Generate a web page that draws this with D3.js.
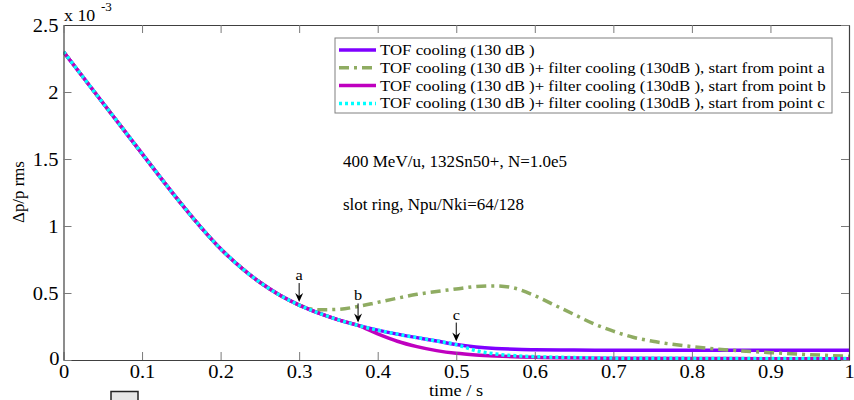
<!DOCTYPE html>
<html><head><meta charset="utf-8">
<script src="https://cdn.jsdelivr.net/npm/d3@7"></script>
<style>body{margin:0;background:#fff}svg{display:block}text{font-family:"Liberation Serif","Times New Roman",serif;fill:#000}</style>
</head><body>
<svg id="c" width="854" height="400"></svg>
<script>
// ---- data (values in units of 1e-3) ----
const baseT = [0,0.025,0.05,0.075,0.1,0.125,0.15,0.175,0.2,0.225,0.25,0.275,0.3];
const baseV = [2.30,2.11,1.92,1.73,1.54,1.35,1.165,0.99,0.83,0.695,0.58,0.485,0.41];
const tofT = [0.325,0.35,0.375,0.4,0.425,0.45,0.475,0.5,0.525,0.55,0.575,0.6,0.65,0.7,0.8,0.9,1.0];
const tofV = [0.35,0.30,0.258,0.223,0.193,0.167,0.142,0.115,0.097,0.086,0.08,0.077,0.074,0.073,0.072,0.072,0.072];
const aT = [0.31,0.325,0.35,0.375,0.4,0.45,0.5,0.525,0.55,0.575,0.6,0.625,0.65,0.675,0.7,0.725,0.75,0.8,0.85,0.9,0.95,1.0];
const aV = [0.388,0.375,0.378,0.40,0.43,0.49,0.53,0.548,0.553,0.535,0.48,0.41,0.34,0.27,0.215,0.17,0.14,0.10,0.073,0.055,0.04,0.028];
const bT = [0.4,0.425,0.45,0.475,0.5,0.525,0.55,0.6,0.7,0.8,0.9,1.0];
const bV = [0.195,0.14,0.10,0.07,0.05,0.038,0.03,0.02,0.013,0.011,0.01,0.01];
const cT = [0.525,0.55,0.575,0.6,0.65,0.7,0.8,0.9,1.0];
const cV = [0.07,0.045,0.032,0.025,0.018,0.014,0.012,0.011,0.011];
const seriesNames = [
  "TOF cooling (130 dB )",
  "TOF cooling (130 dB )+ filter cooling (130dB ), start from point a",
  "TOF cooling (130 dB )+ filter cooling (130dB ), start from point b",
  "TOF cooling (130 dB )+ filter cooling (130dB ), start from point c"
];
const xTicks = [0,0.1,0.2,0.3,0.4,0.5,0.6,0.7,0.8,0.9,1];
const yTicks = [0,0.5,1,1.5,2,2.5];
const markers = [{label:"a",t:0.3},{label:"b",t:0.375},{label:"c",t:0.5}];
const infoLines = ["400 MeV/u, 132Sn50+, N=1.0e5","slot ring, Npu/Nki=64/128"];

// ---- build series: shared prefix (base + TOF) up to the branch point, then own values ----
function build(prefixEnd, t, v){
  const pts = [];
  baseT.forEach((x,i)=>pts.push([x,baseV[i]]));
  tofT.forEach((x,i)=>{ if(x<=prefixEnd) pts.push([x,tofV[i]]); });
  t.forEach((x,i)=>pts.push([x,v[i]]));
  return pts;
}
const sTof = build(1.0,[],[]);
const sA = build(0.3,aT,aV);
const sB = build(0.375,bT,bV);
const sC = build(0.5,cT,cV);

const styles = [
  {color:"#7f00ff", dash:null, w:3.5, data:sTof},
  {color:"#8fac62", dash:"10,5,3,5", w:3.5, data:sA},
  {color:"#bf00bf", dash:null, w:3.5, data:sB},
  {color:"#00ffff", dash:"3,3", w:3.5, data:sC}
];

const svg = d3.select("#c");
const L=63.5, R=849, T=25, B=360;
const x = d3.scaleLinear().domain([0,1]).range([L,R]);
const y = d3.scaleLinear().domain([0,2.5]).range([B,T]);
const FF = '"Liberation Serif","Times New Roman",serif';

function stext(g, tx, ty, str, size, anchor, sx){
  return g.append("text").attr("transform",`translate(${tx},${ty}) scale(${sx},1)`)
    .attr("font-family",FF).attr("font-size",size).attr("text-anchor",anchor||"start").text(str);
}

// clip
svg.append("defs").append("clipPath").attr("id","clip").append("rect")
  .attr("x",L).attr("y",T).attr("width",R-L).attr("height",B-T);

// lines
const line = d3.line().x(d=>x(d[0])).y(d=>y(d[1])).curve(d3.curveMonotoneX);
const lg = svg.append("g").attr("clip-path","url(#clip)");
styles.forEach(s=>{
  lg.append("path").attr("d",line(s.data)).attr("fill","none").attr("stroke",s.color)
    .attr("stroke-width",s.w).attr("stroke-dasharray",s.dash);
});

// axes box with inward ticks
const tickColor="#7a7a7a";
const TSX = 1.08;
const axB = d3.axisBottom(x).tickValues(xTicks).tickSizeInner(-8).tickSizeOuter(0).tickPadding(0).tickFormat(d3.format("~g"));
const axL = d3.axisLeft(y).tickValues(yTicks).tickSizeInner(-8).tickSizeOuter(0).tickPadding(0).tickFormat(d3.format("~g"));
const axT = d3.axisTop(x).tickValues(xTicks).tickSizeInner(-8).tickSizeOuter(0).tickFormat("");
const axR = d3.axisRight(y).tickValues(yTicks).tickSizeInner(-8).tickSizeOuter(0).tickFormat("");
const gB = svg.append("g").attr("transform",`translate(0,${B})`).call(axB);
const gL = svg.append("g").attr("transform",`translate(${L},0)`).call(axL);
const gT = svg.append("g").attr("transform",`translate(0,${T})`).call(axT);
const gR = svg.append("g").attr("transform",`translate(${R},0)`).call(axR);
[gB,gL,gT,gR].forEach(g=>{
  g.attr("font-family",FF);
  g.select(".domain").attr("stroke","#404040").attr("stroke-width",1.2);
  g.selectAll(".tick line").attr("stroke",tickColor).attr("stroke-width",1);
});
gB.selectAll(".tick text").each(function(){
  d3.select(this).attr("y",null).attr("dy",null).attr("transform",`translate(0,17.5) scale(${TSX},1)`)
   .attr("font-size",19).attr("font-family",FF).attr("fill","#000");
});
gL.selectAll(".tick text").each(function(){
  d3.select(this).attr("x",null).attr("dy",null).attr("transform",`translate(-5,6) scale(${TSX},1)`)
   .attr("font-size",19).attr("font-family",FF).attr("fill","#000");
});
gL.selectAll(".tick").filter(d=>d===0).select("text").attr("transform",`translate(-4,4) scale(${TSX},1)`);

// exponent
stext(svg, 64, 21, "x 10", 17, "start", 1.05);
stext(svg, 101, 11, "-3", 12.5, "start", 1.05);

// axis labels
stext(svg, 456, 396, "time / s", 17.5, "middle", 1.05);
svg.append("text").attr("transform",`translate(24,192) rotate(-90) scale(1.02,1)`)
  .attr("font-family",FF).attr("font-size",16.5).attr("text-anchor","middle").text("\u0394p/p rms");

// markers with arrows
const tofInterp = d3.scaleLinear().domain(sTof.map(p=>p[0])).range(sTof.map(p=>p[1]));
markers.forEach(m=>{
  const px = x(m.t), py = y(tofInterp(m.t)) - 3;
  const g = svg.append("g");
  g.append("line").attr("x1",px).attr("x2",px).attr("y1",py-19).attr("y2",py-2)
    .attr("stroke","#000").attr("stroke-width",1);
  g.append("path").attr("d",`M${px},${py} L${px-4},${py-9} L${px},${py-6} L${px+4},${py-9} Z`).attr("fill","#000");
  stext(g, px, py-22, m.label, 15.5, "middle", 1.05);
});

// info text
stext(svg, 343, 167, infoLines[0], 17, "start", 1.0);
stext(svg, 343, 210, infoLines[1], 17, "start", 1.0);

// legend
const lgX=335, lgY=38, lgW=497, lgH=75;
const leg = svg.append("g");
leg.append("rect").attr("x",lgX).attr("y",lgY).attr("width",lgW).attr("height",lgH)
  .attr("fill","#fff").attr("stroke","#808080").attr("stroke-width",1);
styles.forEach((s,i)=>{
  const cy = lgY + 12 + i*17.8;
  leg.append("line").attr("x1",lgX+4).attr("x2",lgX+41).attr("y1",cy).attr("y2",cy)
    .attr("stroke",s.color).attr("stroke-width",s.w).attr("stroke-dasharray",s.dash);
  stext(leg, lgX+45, cy+5, seriesNames[i], 14.5, "start", 1.16);
});

// small gray box at bottom-left
svg.append("rect").attr("x",111).attr("y",391.5).attr("width",27).attr("height",12)
  .attr("fill","#e6e6e6").attr("stroke","#222").attr("stroke-width",1.5);
</script>
</body></html>
